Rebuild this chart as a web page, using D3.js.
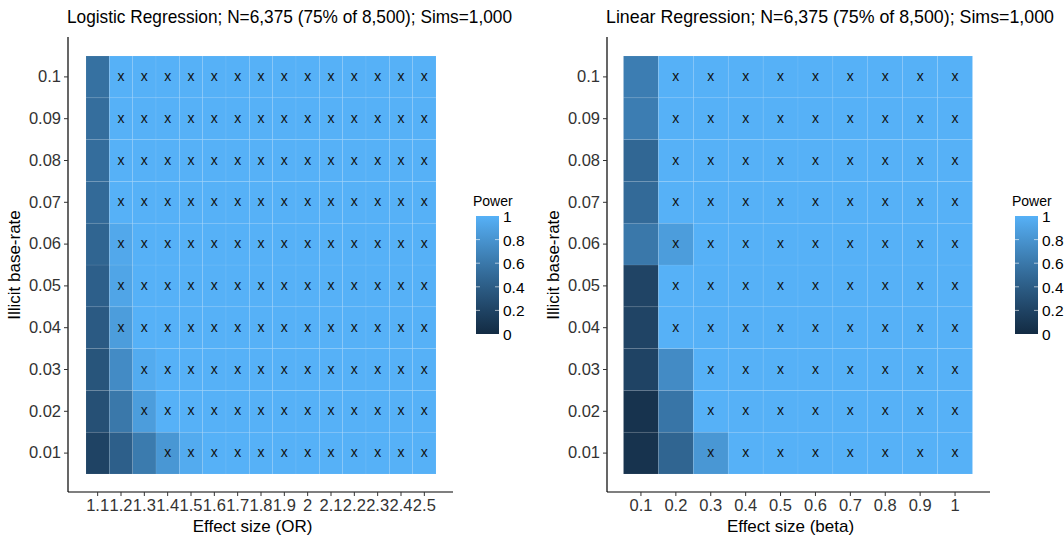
<!DOCTYPE html>
<html>
<head>
<meta charset="utf-8">
<script src="https://cdn.jsdelivr.net/npm/d3@7"></script>
<style>
  body { margin: 0; background: #fff; }
  text { font-family: "Liberation Sans", Arial, sans-serif; }
</style>
</head>
<body>
<script>
// base rates (rows, bottom to top)
const baseRates = ["0.01","0.02","0.03","0.04","0.05","0.06","0.07","0.08","0.09","0.1"];

// logistic: effect sizes (OR)
const orLevels = ["1.1","1.2","1.3","1.4","1.5","1.6","1.7","1.8","1.9","2","2.1","2.2","2.3","2.4","2.5"];
// power per base rate row (0.01 .. 0.1), first columns only; remaining columns are 1
const logitPower = [
  [0.20, 0.42, 0.62, 0.82, 0.96],
  [0.30, 0.60, 0.86, 1, 1],
  [0.34, 0.74, 0.96, 1, 1],
  [0.38, 0.86, 1, 1, 1],
  [0.42, 0.92, 1, 1, 1],
  [0.46, 0.94, 1, 1, 1],
  [0.50, 1, 1, 1, 1],
  [0.52, 1, 1, 1, 1],
  [0.53, 1, 1, 1, 1],
  [0.55, 1, 1, 1, 1]
];

// linear: effect sizes (beta)
const betaLevels = ["0.1","0.2","0.3","0.4","0.5","0.6","0.7","0.8","0.9","1"];
const linearPower = [
  [0.07, 0.46, 0.82],
  [0.07, 0.58, 1],
  [0.20, 0.74, 1],
  [0.21, 1, 1],
  [0.21, 1, 1],
  [0.60, 0.86, 1],
  [0.50, 1, 1],
  [0.48, 1, 1],
  [0.64, 1, 1],
  [0.64, 1, 1]
];

const legendTicks = [0, 0.2, 0.4, 0.6, 0.8, 1];
const threshold = 0.8;

const color = d3.scaleSequential(d3.interpolateLab("#132B43", "#56B1F7")).domain([0, 1]);

const svg = d3.select("body").append("svg")
  .attr("width", 1064).attr("height", 538);

function cells(levels, power) {
  const out = [];
  baseRates.forEach((r, i) => {
    levels.forEach((l, j) => {
      const v = j < power[i].length ? power[i][j] : 1;
      out.push({ x: l, y: r, v: v });
    });
  });
  return out;
}

function panel(opt) {
  const g = svg.append("g");
  const x = d3.scaleBand().domain(opt.levels).range([opt.tileX0, opt.tileX1]);
  const y = d3.scaleBand().domain(baseRates).range([474, 56]);
  const data = cells(opt.levels, opt.power);

  g.selectAll("rect.tile").data(data).enter().append("rect")
    .attr("class", "tile")
    .attr("x", d => x(d.x)).attr("y", d => y(d.y))
    .attr("width", x.bandwidth()).attr("height", y.bandwidth())
    .attr("fill", d => color(d.v))
    .attr("stroke", "rgba(255,255,255,0.12)").attr("stroke-width", 0.6);

  g.selectAll("text.mark").data(data.filter(d => d.v >= threshold)).enter().append("text")
    .attr("class", "mark")
    .attr("x", d => x(d.x) + x.bandwidth() / 2)
    .attr("y", d => y(d.y) + y.bandwidth() / 2 + 4)
    .attr("text-anchor", "middle")
    .attr("font-size", 14).attr("fill", "#111")
    .text("x");

  // axes
  const xAxis = g.append("g").attr("transform", "translate(0,492)")
    .call(d3.axisBottom(x).tickSize(4).tickPadding(3));
  xAxis.select(".domain").attr("d", `M${opt.axisX0},0H${opt.axisX1}`).attr("stroke", "#000").attr("stroke-width", 1.2);
  xAxis.selectAll(".tick line").attr("stroke", "#333");
  xAxis.selectAll(".tick text").attr("font-size", 16.5).attr("fill", "#333")
    .attr("font-family", "Liberation Sans, Arial, sans-serif");

  const yAxis = g.append("g").attr("transform", `translate(${opt.axisX0},0)`)
    .call(d3.axisLeft(y).tickSize(4).tickPadding(3));
  yAxis.select(".domain").attr("d", "M0,37V492").attr("stroke", "#000").attr("stroke-width", 1.2);
  yAxis.selectAll(".tick line").attr("stroke", "#333");
  yAxis.selectAll(".tick text").attr("font-size", 16.5).attr("fill", "#333")
    .attr("font-family", "Liberation Sans, Arial, sans-serif");

  g.append("text").attr("x", (opt.axisX0 + opt.axisX1) / 2 - 8).attr("y", 532)
    .attr("text-anchor", "middle").attr("font-size", 17).attr("fill", "#000")
    .text(opt.xTitle);
  g.append("text")
    .attr("transform", `translate(${opt.axisX0 - 48},265) rotate(-90)`)
    .attr("text-anchor", "middle").attr("font-size", 17).attr("fill", "#000")
    .text("Illicit base-rate");
  g.append("text").attr("x", opt.axisX0 - 1).attr("y", 23)
    .attr("font-size", 17.7).attr("fill", "#000")
    .attr("textLength", opt.titleWidth).attr("lengthAdjust", "spacingAndGlyphs")
    .text(opt.title);

  // legend
  const lx = opt.legendX;
  const ly = d3.scaleLinear().domain([0, 1]).range([334, 216]);
  const defs = svg.append("defs");
  const gid = "grad" + opt.id;
  const grad = defs.append("linearGradient").attr("id", gid)
    .attr("x1", 0).attr("y1", 1).attr("x2", 0).attr("y2", 0);
  d3.range(0, 1.0001, 0.1).forEach(t => {
    grad.append("stop").attr("offset", t).attr("stop-color", color(t));
  });
  g.append("text").attr("x", lx - 3).attr("y", 206).attr("font-size", 14).attr("fill", "#000").text("Power");
  g.append("rect").attr("x", lx).attr("y", 216).attr("width", 23).attr("height", 118)
    .attr("fill", `url(#${gid})`);
  legendTicks.filter(t => t > 0 && t < 1).forEach(t => {
    g.append("line").attr("x1", lx).attr("x2", lx + 4).attr("y1", ly(t)).attr("y2", ly(t))
      .attr("stroke", "rgba(255,255,255,0.6)");
    g.append("line").attr("x1", lx + 19).attr("x2", lx + 23).attr("y1", ly(t)).attr("y2", ly(t))
      .attr("stroke", "rgba(255,255,255,0.6)");
  });
  g.selectAll("text.lt").data(legendTicks).enter().append("text")
    .attr("class", "lt")
    .attr("x", lx + 27).attr("y", d => ly(d) + 6)
    .attr("font-size", 15.5).attr("fill", "#000")
    .text(d => d3.format("~g")(d));
}

panel({
  id: 1, levels: orLevels, power: logitPower,
  tileX0: 86, tileX1: 436, axisX0: 68, axisX1: 453,
  xTitle: "Effect size (OR)",
  title: "Logistic Regression; N=6,375 (75% of 8,500); Sims=1,000",
  titleWidth: 445,
  legendX: 476
});

panel({
  id: 2, levels: betaLevels, power: linearPower,
  tileX0: 623.5, tileX1: 972.5, axisX0: 607, axisX1: 990,
  xTitle: "Effect size (beta)",
  title: "Linear Regression; N=6,375 (75% of 8,500); Sims=1,000",
  titleWidth: 448,
  legendX: 1015
});
</script>
</body>
</html>
